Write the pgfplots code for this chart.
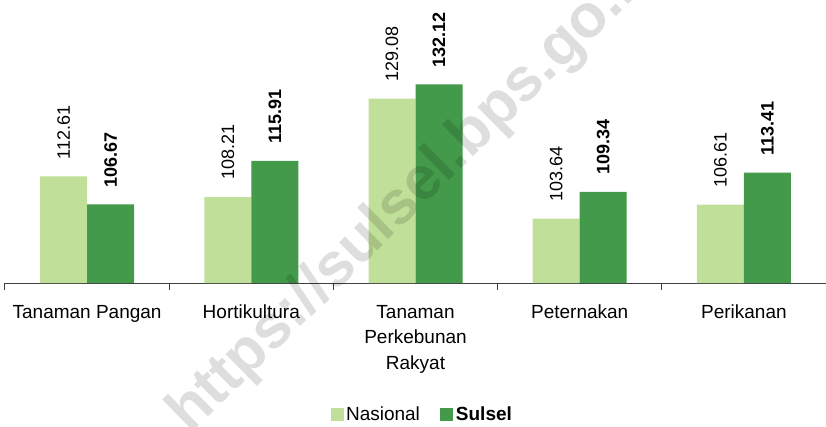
\documentclass[border=0pt]{standalone}
\usepackage{pgfplots}
\pgfplotsset{compat=1.18}
\usepackage{fontspec}
\setmainfont{Liberation Sans}
\definecolor{nas}{RGB}{192,223,152}
\definecolor{sul}{RGB}{67,154,74}
\definecolor{axgray}{RGB}{64,64,64}

\begin{document}
\begin{tikzpicture}
\begin{axis}[
    at={(5pt,143pt)}, anchor=south west,
    scale only axis, width=821pt, height=283pt,
    ybar=0pt, bar width=47pt,
    xmin=-0.5, xmax=4.5, ymin=90, ymax=150,
    axis x line=bottom, axis y line=none,
    x axis line style={-, draw=axgray, line width=1pt},
    xtick={0,1,2,3,4},
    xticklabels={Tanaman Pangan, Hortikultura, {Tanaman\\Perkebunan\\Rakyat}, Peternakan, Perikanan},
    major tick length=0pt,
    minor xtick={-0.5,0.5,1.5,2.5,3.5,4.5},
    minor tick length=7pt, tick align=outside,
    minor tick style={draw=axgray, line width=1pt},
    xticklabel style={font=\fontsize{19}{25.5}\selectfont, align=center, anchor=north, inner sep=0pt, yshift=-22pt},
    /pgf/number format/assume math mode=true,
    nodes near coords={\pgfmathprintnumber[fixed,precision=2,fixed zerofill]{\pgfplotspointmeta}},
    every node near coord/.append style={rotate=90, anchor=west, inner xsep=17pt, inner ysep=0pt,
        font=\fontsize{18}{18}\selectfont, text=black},
    clip=false,
    legend columns=2,
    legend style={at={(0.5085,-0.463)}, anchor=center, draw=none, fill=none,
        font=\fontsize{19}{19}\selectfont,
        /tikz/every even column/.append style={column sep=18pt},
        nodes={inner sep=2.5pt}},
    legend image code/.code={\fill[#1] (0pt,-6.5pt) rectangle (13pt,6.5pt);},
]
\addplot[fill=nas, draw=none] coordinates {(0,112.61) (1,108.21) (2,129.08) (3,103.64) (4,106.61)};
\addlegendentry{Nasional}
\addplot[fill=sul, draw=none, every node near coord/.append style={font=\bfseries\fontsize{18}{18}\selectfont}]
    coordinates {(0,106.67) (1,115.91) (2,132.12) (3,109.34) (4,113.41)};
\addlegendentry{\textbf{Sulsel}}
\end{axis}
% watermark
\node[rotate=44.5, anchor=base west, inner sep=0pt, text=black, opacity=0.13,
      font=\bfseries\fontsize{61}{61}\selectfont] at (190pt,-9pt) {https://sulsel.bps.go.id};
\pgfresetboundingbox
\path (0,0) rectangle (826pt,426pt);
\end{tikzpicture}
\end{document}
